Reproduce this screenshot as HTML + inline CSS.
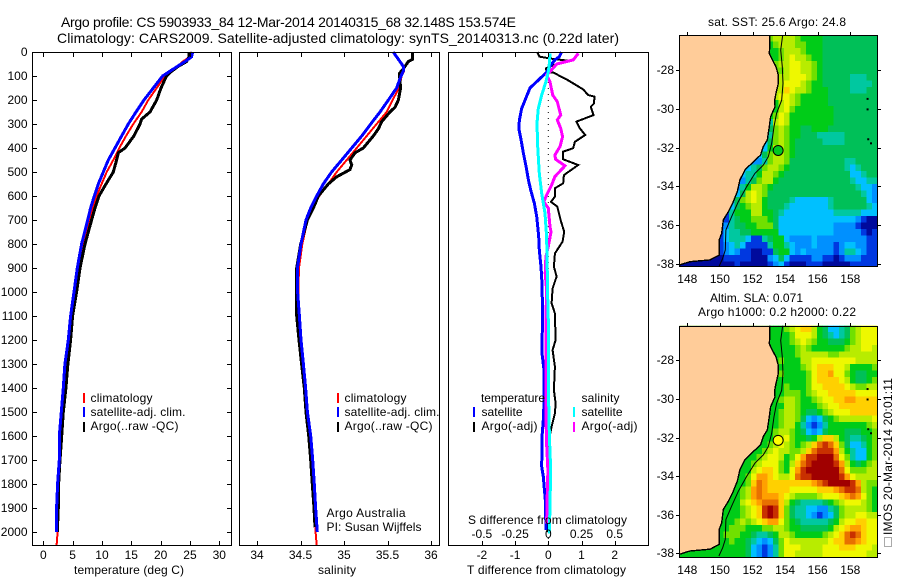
<!DOCTYPE html>
<html lang="en">
<head>
<meta charset="utf-8">
<title>Argo profile 5903933_84</title>
<style>
html,body{margin:0;padding:0;background:#fff;width:900px;height:580px;overflow:hidden}
svg{display:block}
text{font-family:"Liberation Sans",sans-serif;font-size:12px;fill:#000}
.title{font-size:14px}
</style>
</head>
<body>
<svg id="chart" xmlns="http://www.w3.org/2000/svg" width="900" height="580" viewBox="0 0 900 580">
<defs>
<clipPath id="clip-map-sst"><rect x="679.3" y="35" width="198" height="231.5"/></clipPath>
<clipPath id="clip-map-sla"><rect x="679.3" y="325.6" width="198" height="231.5"/></clipPath>
</defs>
<text class="title" x="61" y="27" textLength="455">Argo profile: CS 5903933_84 12-Mar-2014 20140315_68 32.148S 153.574E</text>
<text class="title" x="57" y="43" textLength="562">Climatology: CARS2009. Satellite-adjusted climatology: synTS_20140313.nc (0.22d later)</text>
<g id="layer-heat"></g>
<g id="layer-lines"></g>
<g id="layer-axes"></g>

<text x="74" y="574" textLength="110">temperature (deg C)</text>
<text x="318" y="574" textLength="38">salinity</text>
<text x="467" y="574" textLength="159">T difference from climatology</text>
<text x="468" y="524" textLength="159">S difference from climatology</text>

<g>
<rect x="83" y="393" width="2" height="10" fill="#f00"/>
<rect x="83" y="407" width="2" height="10" fill="#00f"/>
<rect x="83" y="422" width="2" height="10" fill="#000"/>
<text x="90.5" y="402" textLength="62">climatology</text>
<text x="90.5" y="416" textLength="95">satellite-adj. clim.</text>
<text x="90.5" y="430" textLength="88">Argo(..raw -QC)</text>
</g>
<g>
<rect x="337" y="393" width="2" height="10" fill="#f00"/>
<rect x="337" y="407" width="2" height="10" fill="#00f"/>
<rect x="337" y="422" width="2" height="10" fill="#000"/>
<text x="344.5" y="402" textLength="62">climatology</text>
<text x="344.5" y="416" textLength="95">satellite-adj. clim.</text>
<text x="344.5" y="430" textLength="88">Argo(..raw -QC)</text>
<text x="326.5" y="517" textLength="79">Argo Australia</text>
<text x="326.5" y="531" textLength="95">PI: Susan Wijffels</text>
</g>
<g>
<text x="481" y="402" textLength="64">temperature</text>
<text x="581.5" y="402" textLength="38">salinity</text>
<rect x="473" y="407" width="2" height="10" fill="#00f"/>
<rect x="473" y="422" width="2" height="10" fill="#000"/>
<rect x="573" y="407" width="2" height="10" fill="#0ff"/>
<rect x="573" y="422" width="2" height="10" fill="#f0f"/>
<text x="481.5" y="416" textLength="41">satellite</text>
<text x="481.5" y="430" textLength="56">Argo(-adj)</text>
<text x="581.5" y="416" textLength="41">satellite</text>
<text x="581.5" y="430" textLength="56">Argo(-adj)</text>
</g>

<text x="708" y="26" textLength="138">sat. SST: 25.6 Argo: 24.8</text>
<text x="710" y="302" textLength="93">Altim. SLA: 0.071</text>
<text x="698" y="316" textLength="158">Argo h1000: 0.2 h2000: 0.22</text>
<text transform="translate(892,535) rotate(-90)" textLength="157">IMOS 20-Mar-2014 20:01:11</text>
<rect x="884.5" y="537.5" width="7" height="9" fill="none" stroke="#555" stroke-width="1" stroke-dasharray="1 1"/>
</svg>

<script>
// ---------- profile data ----------
const climDepths = [0,20,40,60,80,100,150,200,250,300,350,400,450,500,550,600,650,700,800,900,1000,1100,1200,1300,1400,1500,1600,1700,1800,1900,2000,2056];
const satDepths = [0,20,40,60,80,100,150,200,250,300,350,400,450,500,550,600,650,700,800,900,1000,1100,1200,1300,1400,1500,1600,1700,1800,1900,2000];
const tempClim = [25.28,25.0,23.75,22.84,21.88,20.74,19.32,17.9,16.76,15.34,14.09,12.95,11.93,10.8,9.94,9.09,8.35,7.84,6.82,6.02,5.51,4.83,4.43,3.98,3.64,3.24,2.9,2.84,2.56,2.39,2.44,2.27];
const tempSat = [25.45,25.28,24.15,22.84,21.59,20.34,18.75,17.16,15.8,14.49,13.35,12.22,11.08,10.23,9.38,8.69,8.07,7.56,6.53,5.8,5.23,4.66,4.26,3.69,3.41,3.07,2.73,2.73,2.44,2.27,2.27];
const tempArgoDepths = [0,20,40,60,80,100,150,200,250,280,300,350,400,420,450,500,550,600,650,700,800,900,1000,1100,1200,1300,1400,1500,1600,1700,1800,1900,2000];
const tempArgo = [24.89,24.83,24.43,23.0,21.88,21.0,20.06,19.32,18.18,16.76,16.48,15.45,13.92,12.78,12.5,11.93,10.68,9.49,8.81,8.24,7.1,6.25,5.68,5.0,4.66,4.2,3.86,3.41,3.13,2.84,2.61,2.56,2.39];
const salClim = [35.567,35.605,35.644,35.682,35.69,35.663,35.632,35.559,35.49,35.375,35.261,35.146,35.031,34.916,34.82,34.716,34.636,34.582,34.521,34.483,34.475,34.479,34.494,34.521,34.552,34.571,34.602,34.625,34.64,34.659,34.674,34.686];
const salSat = [35.567,35.605,35.644,35.682,35.682,35.655,35.605,35.51,35.414,35.307,35.203,35.088,34.973,34.858,34.762,34.686,34.617,34.563,34.506,34.464,34.467,34.487,34.506,34.533,34.559,34.579,34.617,34.64,34.659,34.674,34.693];
const salArgoDepths = [0,30,40,70,90,150,200,230,250,290,320,350,400,420,450,470,490,520,550,600,650,700,800,900,1000,1100,1200,1300,1400,1500,1600,1700,1800,1900,1980];
const salArgo = [35.789,35.789,35.739,35.682,35.636,35.651,35.625,35.586,35.529,35.433,35.395,35.337,35.222,35.126,35.069,35.088,35.069,34.916,34.82,34.705,34.648,34.579,34.502,34.456,34.456,34.456,34.483,34.513,34.544,34.563,34.594,34.617,34.636,34.655,34.667];
const diffTSatDepths = [0,19,33,60,81,100,150,200,235,283,318,367,422,478,533,575,631,686,769,825,894,964,1117,1200,1256,1325,1464,1533,1603,1728,1769,1867,1992];
const diffTSat = [0.40,0.33,0.20,0.05,-0.03,-0.17,-0.55,-0.70,-0.80,-0.87,-0.89,-0.82,-0.75,-0.67,-0.60,-0.53,-0.42,-0.35,-0.29,-0.27,-0.22,-0.19,-0.17,-0.19,-0.19,-0.13,-0.13,-0.15,-0.19,-0.20,-0.15,-0.09,-0.07];
const diffTArgoDepths = [0,19,28,36,50,68,82,86,114,156,179,186,214,228,263,290,318,346,374,401,415,447,471,513,547,568,603,624,644,700,749,790,839,894,936,985,1047,1089,1200,1242,1311,1408,1464,1506,1561,1617,1756,2000];
const diffTArgo = [-0.33,-0.27,0.10,0.57,0.25,-0.07,-0.05,0.15,0.55,1.05,1.20,1.39,1.38,1.28,1.36,0.85,0.95,1.11,0.80,0.75,0.45,0.45,0.90,0.47,0.45,0.20,0.20,0.08,0.27,0.37,0.48,0.43,0.20,0.17,0.25,0.13,0.10,0.20,0.22,0.13,0.20,0.17,0.22,0.20,0.10,0.02,0,-0.02];
const diffSSatDepths = [6,47,82,124,179,235,297,394,506,589,672,769,894,1006,1117,1325,1464,1603,1742,1881,2006];
const diffSSat = [0.013,0.008,0,-0.018,-0.05,-0.075,-0.085,-0.08,-0.068,-0.05,-0.025,-0.013,-0.008,-0.005,0,0,0.003,0.008,0.018,0.013,0.008];
const diffSArgoDepths = [6,33,50,82,96,124,179,207,263,283,318,353,394,429,447,474,519,554,596,624,651,728,749,811,853,922,992,1117,1325,1506,1631,1742,1853,1964];
const diffSArgo = [0.226,0.188,0.063,0.013,-0.013,0.013,0.033,0.068,0.093,0.068,0.093,0.108,0.088,0.05,0.055,0.126,0.05,0.025,-0.013,-0.033,0,0.013,0.02,0,-0.018,-0.023,-0.013,-0.018,-0.018,-0.018,-0.013,-0.003,-0.008,-0.013];

// ---------- tick labels ----------
const depthTicks = [0,100,200,300,400,500,600,700,800,900,1000,1100,1200,1300,1400,1500,1600,1700,1800,1900,2000];
const tempTicks = [0,5,10,15,20,25,30];
const salTicks = [34,34.5,35,35.5,36];
const diffTTicks = [-2,-1,0,1,2];
const diffSTicks = [-0.5,-0.25,0,0.25,0.5];
const lonTicks = [148,150,152,154,156,158];
const latTicks = [-28,-30,-32,-34,-36,-38];

// ---------- map geography ----------
const coastLon = [153.07,153.07,153.03,153.17,153.44,153.58,153.58,153.44,153.36,153.38,153.11,153.03,152.91,152.66,152.50,152.05,151.54,151.23,151.07,150.78,150.52,150.21,150.11,149.96,149.96,149.39,148.16,147.51];
const coastLat = [-26.2,-26.71,-27.14,-27.40,-27.83,-28.26,-28.69,-29.20,-29.55,-29.89,-30.41,-30.92,-31.61,-31.95,-32.38,-32.73,-33.15,-33.67,-34.27,-34.87,-35.30,-35.73,-36.42,-36.76,-37.54,-37.79,-37.88,-38.05];
const shelfLon = [153.85,153.73,153.83,153.87,153.79,153.48,153.32,153.18,152.97,152.66,152.15,151.64,151.13,150.72,150.37,150.33,150.17,149.94];
const shelfLat = [-26.2,-26.97,-27.83,-28.69,-29.55,-30.23,-30.92,-31.78,-32.47,-32.90,-33.33,-34.02,-34.79,-35.56,-36.25,-37.28,-37.71,-38.14];
const islandLon = [159.06,159.06,159.10,159.27];
const islandLat = [-29.49,-30.03,-31.57,-31.78];
const profileLon = 153.574;
const profileLat = -32.148;

// ---------- gridded fields (colour level per cell, north to south) ----------
const sstGrid = [
[0,0,0,0,0,0,0,0,0,0,0,0,0,0,0,0,7,8,8,8,8,7,6,6,6,6,5,5,5,5,5,5,5,5,5,5],
[0,0,0,0,0,0,0,0,0,0,0,0,0,0,0,0,6,7,8,8,8,7,7,6,6,6,5,5,5,5,5,5,5,5,5,5],
[0,0,0,0,0,0,0,0,0,0,0,0,0,0,0,0,6,6,7,8,8,8,7,6,6,6,5,5,5,5,5,5,5,5,5,5],
[0,0,0,0,0,0,0,0,0,0,0,0,0,0,0,0,6,6,7,8,9,8,8,7,6,6,5,5,5,5,5,5,5,5,5,5],
[0,0,0,0,0,0,0,0,0,0,0,0,0,0,0,0,0,7,8,8,9,9,8,8,7,6,5,5,5,5,5,5,5,5,5,5],
[0,0,0,0,0,0,0,0,0,0,0,0,0,0,0,0,0,7,7,8,9,9,8,8,7,6,5,5,5,5,5,5,5,5,5,5],
[0,0,0,0,0,0,0,0,0,0,0,0,0,0,0,0,0,0,8,8,9,9,9,8,7,6,5,5,5,5,5,4,4,4,5,5],
[0,0,0,0,0,0,0,0,0,0,0,0,0,0,0,0,0,0,8,9,9,9,8,7,6,6,5,5,5,5,5,4,4,4,4,5],
[0,0,0,0,0,0,0,0,0,0,0,0,0,0,0,0,0,8,8,10,9,8,8,7,6,6,6,5,5,5,5,4,4,4,5,5],
[0,0,0,0,0,0,0,0,0,0,0,0,0,0,0,0,0,8,9,9,8,7,6,6,6,6,6,5,5,5,5,5,5,5,5,5],
[0,0,0,0,0,0,0,0,0,0,0,0,0,0,0,0,0,6,8,9,8,7,6,6,6,6,6,5,5,5,5,5,5,5,5,5],
[0,0,0,0,0,0,0,0,0,0,0,0,0,0,0,0,0,6,8,9,7,6,6,6,6,6,6,6,5,5,5,5,5,5,5,5],
[0,0,0,0,0,0,0,0,0,0,0,0,0,0,0,0,6,7,9,8,6,6,6,6,6,6,6,6,5,5,5,5,5,5,5,5],
[0,0,0,0,0,0,0,0,0,0,0,0,0,0,0,0,4,8,9,8,6,6,6,6,6,6,6,6,5,5,5,5,5,5,5,5],
[0,0,0,0,0,0,0,0,0,0,0,0,0,0,0,0,5,7,8,7,6,6,5,5,6,6,6,5,5,5,5,5,5,5,5,5],
[0,0,0,0,0,0,0,0,0,0,0,0,0,0,0,0,4,7,8,7,6,6,5,5,5,4,4,4,4,4,5,5,5,5,5,5],
[0,0,0,0,0,0,0,0,0,0,0,0,0,0,0,3,5,7,8,7,6,5,5,5,5,5,4,4,4,4,5,5,5,5,5,5],
[0,0,0,0,0,0,0,0,0,0,0,0,0,0,0,3,6,8,8,7,6,5,5,5,5,5,5,5,5,5,5,5,5,5,5,5],
[0,0,0,0,0,0,0,0,0,0,0,0,0,0,3,5,7,8,8,7,6,5,5,5,5,5,5,5,5,5,5,5,5,5,5,5],
[0,0,0,0,0,0,0,0,0,0,0,0,0,2,2,4,7,8,8,7,5,5,5,5,5,5,5,5,5,5,4,4,5,5,5,5],
[0,0,0,0,0,0,0,0,0,0,0,3,3,4,5,7,8,8,7,6,5,5,5,5,5,5,5,5,5,5,4,3,4,5,5,5],
[0,0,0,0,0,0,0,0,0,0,0,3,4,4,6,8,8,7,6,5,5,5,5,5,5,5,5,5,5,5,5,3,3,4,5,5],
[0,0,0,0,0,0,0,0,0,0,0,2,4,5,7,8,8,6,5,5,5,5,5,5,5,5,5,5,5,5,5,4,3,3,4,4],
[0,0,0,0,0,0,0,0,0,0,2,4,6,8,8,7,6,5,5,5,5,5,5,5,5,5,5,5,5,5,5,5,4,3,3,2],
[0,0,0,0,0,0,0,0,0,0,3,5,8,9,8,7,5,5,5,5,5,5,5,5,5,5,5,5,5,5,5,5,5,4,3,2],
[0,0,0,0,0,0,0,0,0,2,5,7,8,9,8,6,5,5,5,5,4,3,3,3,3,3,3,4,5,5,5,5,5,5,3,2],
[0,0,0,0,0,0,0,0,0,3,5,6,7,8,8,6,5,5,5,4,3,3,3,3,3,3,3,4,5,5,5,5,5,5,4,3],
[0,0,0,0,0,0,0,0,1,4,6,6,6,8,8,6,6,5,4,3,3,3,3,3,3,3,3,3,4,4,4,4,4,3,3,3],
[0,0,0,0,0,0,0,0,1,4,5,6,6,7,7,7,6,5,3,3,3,3,3,3,3,3,3,3,3,3,3,3,2,1,0,0],
[0,0,0,0,0,0,0,1,2,4,5,5,6,6,7,7,7,5,3,3,3,3,3,3,3,3,3,3,2,2,2,2,1,0,0,0],
[0,0,0,0,0,0,0,1,3,4,4,5,5,6,6,6,6,6,3,3,3,3,3,3,3,3,3,3,2,2,2,2,2,1,0,1],
[0,0,0,0,0,0,0,1,3,4,4,4,3,1,1,4,5,6,6,3,2,2,2,2,3,2,2,2,2,2,2,2,2,2,1,1],
[0,0,0,0,0,0,0,1,2,3,4,3,1,1,1,1,4,6,6,4,3,2,2,2,3,2,2,2,1,2,3,3,2,2,1,1],
[0,0,0,0,0,0,0,1,2,3,2,1,1,0,0,1,1,5,6,6,3,2,3,2,2,2,2,2,1,2,4,4,3,2,1,1],
[0,0,0,0,0,0,0,0,1,1,1,1,1,0,0,0,2,3,5,3,1,1,1,1,2,2,1,1,0,1,2,2,2,1,1,1],
[0,0,0,0,0,0,0,0,0,0,1,0,0,0,0,0,1,2,3,1,0,0,0,1,1,1,0,0,0,0,0,1,1,1,1,1]
];
const slaGrid = [
[6,6,6,6,6,6,6,6,6,6,6,6,6,6,6,6,6,6,6,7,8,9,10,10,8,6,5,3,3,4,5,7,8,9,9,9],
[6,6,6,6,6,6,6,6,6,6,6,6,6,6,6,6,6,6,6,6,7,9,9,9,8,6,5,4,3,4,5,7,8,9,9,9],
[6,6,6,6,6,6,6,6,6,6,6,6,6,6,6,6,6,6,6,6,7,8,9,8,7,6,6,5,5,5,6,7,8,9,9,9],
[6,6,6,6,6,6,6,6,6,6,6,6,6,6,6,6,6,6,6,6,6,7,8,7,6,6,6,6,6,6,7,8,8,9,9,8],
[6,6,6,6,6,6,6,6,6,6,6,6,6,6,6,6,6,6,6,6,6,7,8,8,8,8,8,7,7,8,8,8,8,8,8,8],
[6,6,6,6,6,6,6,6,6,6,6,6,6,6,6,6,6,6,7,6,6,6,8,8,9,9,9,9,9,9,9,9,8,8,8,8],
[6,6,6,6,6,6,6,6,6,6,6,6,6,6,6,6,6,6,6,6,6,6,7,8,9,10,10,10,9,9,8,6,6,6,6,7],
[6,6,6,6,6,6,6,6,6,6,6,6,6,6,6,6,6,6,7,6,6,6,6,7,9,10,10,11,9,9,7,6,5,5,6,6],
[6,6,6,6,6,6,6,6,6,6,6,6,6,6,6,6,6,6,6,6,6,6,6,7,9,10,10,10,10,9,8,6,5,5,6,7],
[6,6,6,6,6,6,6,6,6,6,6,6,6,6,6,6,6,6,6,7,6,6,6,7,9,9,10,10,10,10,9,8,7,7,8,8],
[6,6,6,6,6,6,6,6,6,6,6,6,6,6,6,6,6,6,6,7,7,7,6,7,8,9,9,10,10,10,10,10,9,9,9,9],
[6,6,6,6,6,6,6,6,6,6,6,6,6,6,6,6,6,6,7,8,8,7,6,6,7,8,9,9,10,10,11,11,10,10,10,10],
[6,6,6,6,6,6,6,6,6,6,6,6,6,6,6,6,6,6,6,8,8,7,6,6,6,7,8,9,9,10,10,10,10,10,10,10],
[6,6,6,6,6,6,6,6,6,6,6,6,6,6,6,6,6,6,7,8,8,7,6,5,5,6,7,8,9,9,9,10,10,10,10,10],
[6,6,6,6,6,6,6,6,6,6,6,6,6,6,6,6,6,6,7,8,8,7,5,3,2,3,5,6,7,8,8,8,8,8,8,9],
[6,6,6,6,6,6,6,6,6,6,6,6,6,6,6,6,6,6,7,8,8,6,4,2,1,2,4,6,6,6,6,6,6,6,7,8],
[6,6,6,6,6,6,6,6,6,6,6,6,6,6,6,6,6,7,8,8,7,6,5,3,2,3,5,6,6,6,5,5,5,6,6,7],
[6,6,6,6,6,6,6,6,6,6,6,6,6,6,6,6,6,7,8,9,7,6,6,5,6,8,10,10,8,6,5,4,4,5,6,7],
[6,6,6,6,6,6,6,6,6,6,6,6,6,6,6,6,7,8,9,8,7,6,7,8,10,12,13,12,10,7,5,3,3,4,6,7],
[6,6,6,6,6,6,6,6,6,6,6,6,6,6,6,7,8,9,8,8,7,7,8,10,12,13,13,13,11,8,6,4,3,3,6,7],
[6,6,6,6,6,6,6,6,6,6,6,6,6,6,7,8,9,9,8,6,7,9,11,13,13,14,14,14,12,9,7,4,3,3,6,7],
[6,6,6,6,6,6,6,6,6,6,6,6,6,7,8,9,9,9,7,6,8,10,12,13,14,14,14,14,13,11,8,6,5,6,7,8],
[6,6,6,6,6,6,6,6,6,6,6,6,6,8,9,10,10,9,7,6,9,11,13,14,14,14,14,14,14,12,9,7,7,7,8,8],
[6,6,6,6,6,6,6,6,6,6,6,6,7,9,11,11,10,9,8,8,9,12,13,13,14,14,14,14,14,13,11,9,8,8,8,8],
[6,6,6,6,6,6,6,6,6,6,6,6,7,10,12,11,10,10,10,10,10,10,10,10,11,12,13,14,14,14,14,13,11,8,7,7],
[6,6,6,6,6,6,6,6,6,6,6,7,8,11,12,11,10,10,10,10,9,9,9,9,9,10,10,10,11,12,13,13,12,8,7,6],
[6,6,6,6,6,6,6,6,6,6,6,7,8,11,12,11,11,11,10,9,8,7,7,7,7,8,9,9,9,10,11,12,11,9,7,6],
[6,6,6,6,6,6,6,6,6,6,6,8,9,10,11,12,12,12,10,8,6,5,4,4,4,4,5,6,7,8,9,9,9,8,7,6],
[6,6,6,6,6,6,6,6,6,6,6,7,8,9,10,13,14,13,10,7,5,4,4,3,3,2,2,4,5,7,8,8,8,8,7,6],
[6,6,6,6,6,6,6,6,6,6,6,7,8,9,10,13,14,13,10,7,5,4,4,3,2,1,2,3,5,7,8,8,9,9,8,8],
[6,6,6,6,6,6,6,6,6,6,7,8,7,8,9,10,11,11,9,7,6,5,4,4,4,4,4,5,6,8,9,9,10,10,9,9],
[6,6,6,6,6,6,6,6,6,7,7,7,6,6,6,7,7,8,8,7,6,6,5,5,5,5,5,6,8,9,10,11,11,10,9,9],
[6,6,6,6,6,6,6,6,7,7,7,6,6,5,4,4,5,6,8,8,7,6,6,6,6,6,7,8,9,10,12,13,12,10,9,9],
[6,6,6,6,6,6,6,6,6,7,6,6,5,4,3,2,3,5,7,9,8,8,8,8,8,8,8,9,10,10,12,12,11,10,9,9],
[6,6,6,6,6,6,6,6,6,6,6,6,5,3,2,1,2,4,7,9,9,9,8,8,8,8,9,9,9,10,10,10,9,9,9,8],
[6,6,6,6,6,6,6,6,6,6,6,6,5,3,2,1,2,4,7,9,9,8,8,8,8,8,9,9,9,9,9,9,9,9,8,8]
];
const levelColours = ['#000a9c','#0038e0','#0090ff','#00c0ff','#00c8a0','#00c058','#00cc18','#70e000','#b8ec00','#eef800','#ffd000','#ffa000','#e87000','#c83000','#a00000'];

// ---------- axis functions ----------
const yDepth = d => 52 + 0.24 * d;
const xTemp = t => 43.3 + 5.867 * t;
const xSal = s => 257 + 87 * (s - 34);
const xDiffT = t => 548.3 + 33.2 * t;
const xDiffS = s => 548.3 + 132.8 * s;
const xLon = lon => 687.3 + (lon - 148) * 16.3;
const ySst = lat => 70 + (-28 - lat) * 19.4;
const ySla = lat => 360.3 + (-28 - lat) * 19.3;
const gridWest = 147.51, gridEast = 159.66, gridNorth = -26.2, gridSouth = -38.2;

const NS = 'http://www.w3.org/2000/svg';
const heatLayer = document.getElementById('layer-heat');
const lineLayer = document.getElementById('layer-lines');
const axisLayer = document.getElementById('layer-axes');
function mk(parent, tag, attrs, txt) {
  const n = document.createElementNS(NS, tag);
  for (const k in attrs) n.setAttribute(k, attrs[k]);
  if (txt !== undefined) n.textContent = txt;
  parent.appendChild(n);
  return n;
}
function toPoints(xs, ds, xf) {
  return xs.map((v, i) => xf(v).toFixed(1) + ',' + yDepth(ds[i]).toFixed(1)).join(' ');
}
function drawProfile(name, xs, ds, xf, colour, w) {
  const el = mk(lineLayer, 'polyline', {points: toPoints(xs, ds, xf), fill: 'none', stroke: colour, 'stroke-width': w, 'shape-rendering': 'crispEdges'});
  
  
}
function tickLine(x1, y1, x2, y2) {
  const el = mk(axisLayer, 'line', {x1: x1, y1: y1, x2: x2, y2: y2, stroke: '#000', 'stroke-width': 1, 'shape-rendering': 'crispEdges'});
  
  
}
function tickText(x, y, anchor, s) {
  const el = mk(axisLayer, 'text', {x: x, y: y, 'text-anchor': anchor}, s);
  
  
}
function frame(name, x, y, w, h, sw) {
  const el = mk(axisLayer, 'rect', {x: x, y: y, width: w, height: h, fill: 'none', stroke: '#000', 'stroke-width': sw, 'shape-rendering': 'crispEdges'});
  
  
}

// ---------- profile panels ----------
drawProfile('temperature-climatology-line', tempClim, climDepths, xTemp, '#f00', 2);
drawProfile('temperature-argo-line', tempArgo, tempArgoDepths, xTemp, '#000', 3);
drawProfile('temperature-satellite-line', tempSat, satDepths, xTemp, '#00f', 3);
drawProfile('salinity-climatology-line', salClim, climDepths, xSal, '#f00', 2);
drawProfile('salinity-argo-line', salArgo, salArgoDepths, xSal, '#000', 3);
drawProfile('salinity-satellite-line', salSat, satDepths, xSal, '#00f', 3);

const zeroLine = mk(lineLayer, 'line', {x1: xDiffT(0), y1: 52, x2: xDiffT(0), y2: 545, stroke: '#000', 'stroke-width': 1, 'stroke-dasharray': '1 5'});


drawProfile('t-difference-argo-line', diffTArgo, diffTArgoDepths, xDiffT, '#000', 2);
drawProfile('t-difference-satellite-line', diffTSat, diffTSatDepths, xDiffT, '#00f', 3);
drawProfile('s-difference-argo-line', diffSArgo, diffSArgoDepths, xDiffS, '#f0f', 3);
drawProfile('s-difference-satellite-line', diffSSat, diffSSatDepths, xDiffS, '#0ff', 3);

frame('temperature-panel-frame', 32.5, 52.5, 199, 493, 1);
frame('salinity-panel-frame', 239.5, 52.5, 200, 493, 1);
frame('difference-panel-frame', 448.5, 52.5, 200, 493, 1);

depthTicks.forEach(d => {
  const y = Math.round(yDepth(d)) + 0.5;
  tickLine(32, y, 37, y);
  tickLine(227, y, 232, y);
  tickText(27.5, Math.round(yDepth(d)) + 4, 'end', String(d));
});
tempTicks.forEach(t => {
  const x = Math.round(xTemp(t)) + 0.5;
  tickLine(x, 52, x, 57);
  tickLine(x, 541, x, 546);
  tickText(xTemp(t), 559, 'middle', String(t));
});
salTicks.forEach(s => {
  const x = Math.round(xSal(s)) + 0.5;
  tickLine(x, 52, x, 57);
  tickLine(x, 541, x, 546);
  tickText(xSal(s), 559, 'middle', String(s));
});
diffTTicks.forEach(t => {
  const x = Math.round(xDiffT(t)) + 0.5;
  tickLine(x, 52, x, 57);
  tickLine(x, 541, x, 546);
  tickText(xDiffT(t), 559, 'middle', String(t));
});
diffSTicks.forEach(s => {
  tickText(xDiffS(s), 538, 'middle', String(s));
});

// ---------- maps ----------
function drawMap(key, grid, yf, clipId, markerColour, top, bottom) {
  const nRows = grid.length, nCols = grid[0].length;
  const lonStep = (gridEast - gridWest) / nCols, latStep = (gridNorth - gridSouth) / nRows;
  const g = mk(heatLayer, 'g', {'clip-path': 'url(#' + clipId + ')'});
  
  
  grid.forEach((row, j) => {
    row.forEach((level, i) => {
      const x0 = xLon(gridWest + i * lonStep), x1 = xLon(gridWest + (i + 1) * lonStep);
      const y0 = yf(gridNorth - j * latStep), y1 = yf(gridNorth - (j + 1) * latStep);
      const cell = mk(g, 'rect', {x: x0.toFixed(2), y: y0.toFixed(2), width: (x1 - x0 + 0.6).toFixed(2), height: (y1 - y0 + 0.6).toFixed(2), fill: levelColours[level], 'shape-rendering': 'crispEdges'});
      
      
    });
  });
  const landPts = coastLon.map((lon, i) => xLon(lon).toFixed(1) + ',' + yf(coastLat[i]).toFixed(1));
  landPts.push(xLon(gridWest).toFixed(1) + ',' + yf(gridSouth).toFixed(1));
  landPts.push(xLon(gridWest).toFixed(1) + ',' + yf(gridNorth).toFixed(1));
  const land = mk(g, 'polygon', {points: landPts.join(' '), fill: '#ffcc99'});
  
  
  const coast = mk(g, 'polyline', {points: coastLon.map((lon, i) => xLon(lon).toFixed(1) + ',' + yf(coastLat[i]).toFixed(1)).join(' '), fill: 'none', stroke: '#000', 'stroke-width': 1.4, 'shape-rendering': 'crispEdges'});
  
  
  const shelf = mk(g, 'polyline', {points: shelfLon.map((lon, i) => xLon(lon).toFixed(1) + ',' + yf(shelfLat[i]).toFixed(1)).join(' '), fill: 'none', stroke: '#000', 'stroke-width': 1});
  
  
  islandLon.forEach((lon, i) => {
    const isl = mk(g, 'rect', {x: xLon(lon) - 1, y: yf(islandLat[i]) - 1, width: 2, height: 2, fill: '#000'});
    
    
  });
  const marker = mk(g, 'circle', {cx: xLon(profileLon), cy: yf(profileLat), r: 5, fill: markerColour, stroke: '#000', 'stroke-width': 1});
  
  

  frame(key + '-map-frame', 679.5, top + 0.5, 198, bottom - top, 1.3);
  lonTicks.forEach(lon => {
    const x = Math.round(xLon(lon)) + 0.5;
    tickLine(x, top - 3, x, top);
    tickText(xLon(lon), bottom + 17, 'middle', String(lon));
  });
  latTicks.forEach(lat => {
    const y = Math.round(yf(lat)) + 0.5;
    tickLine(676, y, 679, y);
    tickLine(878, y, 881, y);
    tickText(674, Math.round(yf(lat)) + 4, 'end', String(lat));
  });
}
drawMap('sst', sstGrid, ySst, 'clip-map-sst', '#00c820', 35, 266);
drawMap('sla', slaGrid, ySla, 'clip-map-sla', '#ffff00', 326, 557);
</script>
</body>
</html>
